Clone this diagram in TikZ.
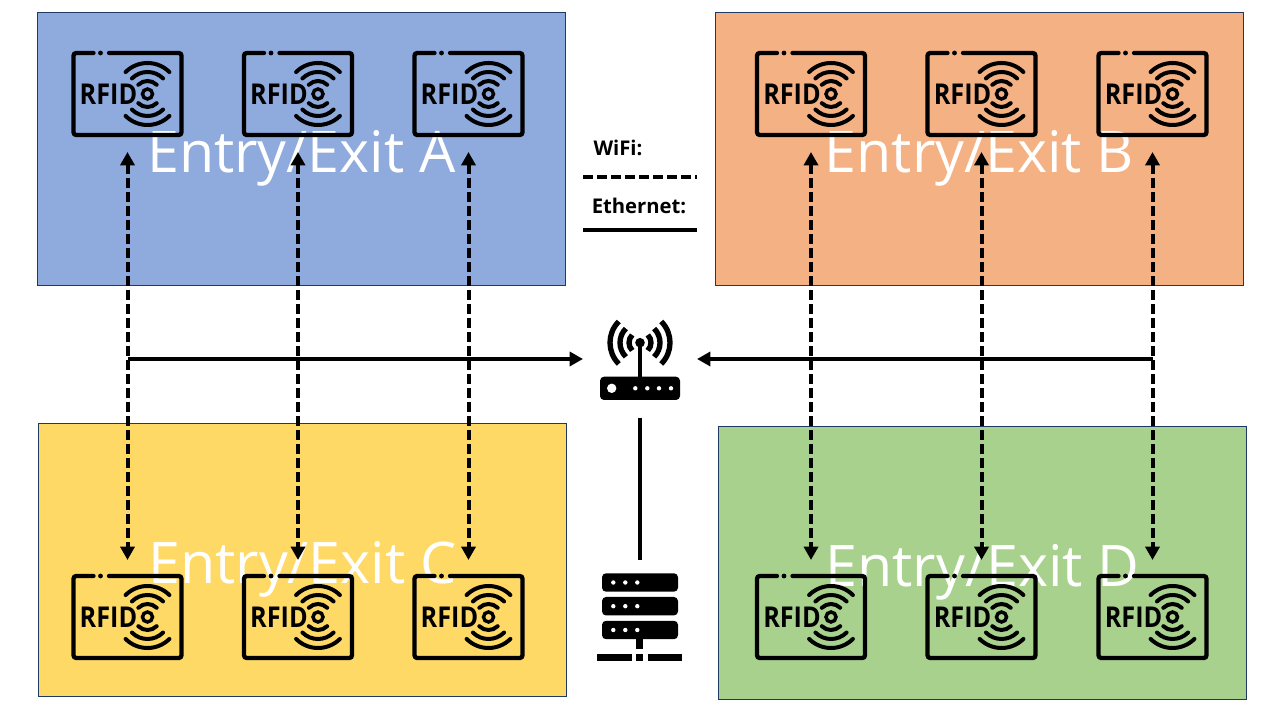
\documentclass[tikz,border=0pt]{standalone}
\usepackage{fontspec}
\setmainfont{Open Sans}
\usetikzlibrary{positioning,calc,shapes,arrows.meta}
\definecolor{ZoneBlue}{HTML}{8FAADC}
\definecolor{ZoneOrange}{HTML}{F4B183}
\definecolor{ZoneYellow}{HTML}{FFD966}
\definecolor{ZoneGreen}{HTML}{A9D18E}
\definecolor{ZoneEdge}{HTML}{1F3864}
\tikzset{
  zone/.style={draw=ZoneEdge,line width=0.75pt,
    minimum width=396pt,minimum height=204.75pt,inner sep=0pt,outer sep=0pt},
  zonetext/.style={text=white,font=\fontsize{43}{43}\selectfont,inner sep=0pt,yshift=-6.5pt},
  rfidnode/.style={minimum width=83.25pt,minimum height=63pt,inner sep=0pt,outer sep=0pt},
  wifiline/.style={line width=3pt,dash pattern=on 7.5pt off 3pt},
  wifilink/.style={wifiline,{Triangle[length=10pt,width=10.5pt]}-{Triangle[length=10pt,width=10.5pt]},
    shorten <=12pt,shorten >=11.25pt},
  ethline/.style={line width=3pt},
  ethlink/.style={ethline,-{Triangle[length=10pt,width=10.5pt]}},
  legend/.style={font=\fontsize{15.2}{15.2}\selectfont\bfseries,inner sep=0pt},
  rfidicon/.pic={
    \draw[line width=3.2pt,line cap=round,rounded corners=2pt] (-34,41) -- (-54,41) -- (-54,-41)
      -- (54,-41) -- (54,41) -- (-18.5,41);
    \fill (-27,41) circle (2.4);
    \node[xscale=0.88,transform shape,font=\fontsize{21.5}{21.5}\selectfont\bfseries,inner sep=0pt] (-txt) at (-19,0) {RFID};
    \draw[line width=2.6pt] (20,0) circle (5);
    \foreach \r in {13,22,31} {
      \draw[line width=3pt,line cap=round] ([shift={(45:\r)}]20,0) arc[start angle=45,end angle=135,radius=\r];
      \draw[line width=3pt,line cap=round] ([shift={(225:\r)}]20,0) arc[start angle=225,end angle=315,radius=\r];
    }
  },
  routericon/.pic={
    \fill[rounded corners=3pt] (-40,-41) rectangle (40,-17.7);
    \fill[white] (-28.3,-29.3) circle (4.7);
    \foreach \x in {-4.7,7.3,19,31} \fill[white] (\x,-29.3) circle (2.2);
    \fill (-2.4,16) rectangle (2.4,-18);
    \fill (0,16.3) circle (4.8);
    \foreach \r in {11,20,30} {
      \draw[line width=4pt] ([shift={(-45:\r)}]0,16.3) arc[start angle=-45,end angle=45,radius=\r];
      \draw[line width=4pt] ([shift={(135:\r)}]0,16.3) arc[start angle=135,end angle=225,radius=\r];
    }
  },
  servericon/.pic={
    \foreach \y in {34.5,10.8,-13} {
      \fill[rounded corners=3pt] (-38,\y-9.2) rectangle (38,\y+9.2);
      \foreach \x in {-26.7,-14.7,-2.7} \fill[white] (\x,\y) circle (2.2);
    }
    \fill (-4,-22) rectangle (3.3,-31.7);
    \fill (-42.7,-37) rectangle (-8.3,-43.7);
    \fill (-4,-37) rectangle (3.3,-43.7);
    \fill (7.7,-37) rectangle (41.7,-43.7);
  }
}
\begin{document}
\begin{tikzpicture}[x=0.75pt,y=0.75pt]
  \useasboundingbox (0,0) rectangle (1280,720);
  % zones
  \node[zone,fill=ZoneBlue] (zoneA) at (301.5,570.5) {};
  \node[zone,fill=ZoneOrange] (zoneB) at (979.5,570.5) {};
  \node[zone,fill=ZoneYellow] (zoneC) at (302.5,159.5) {};
  \node[zone,fill=ZoneGreen] (zoneD) at (982.5,156.5) {};
  \node[zonetext] (textA) at (zoneA) {Entry/Exit A};
  \node[zonetext] (textB) at (zoneB) {Entry/Exit B};
  \node[zonetext] (textC) at (zoneC) {Entry/Exit C};
  \node[zonetext] (textD) at (zoneD) {Entry/Exit D};
  % readers
  \foreach \n/\x/\xr in {1/127.5/811,2/298/981.5,3/468.5/1152.5} {
    \node[rfidnode] (readA\n) at (\x,626) {};
    \node[rfidnode] (readB\n) at (\xr,626) {};
    \node[rfidnode] (readC\n) at (\x,103) {};
    \node[rfidnode] (readD\n) at (\xr,103) {};
    \pic at (readA\n) {rfidicon};
    \pic at (readB\n) {rfidicon};
    \pic at (readC\n) {rfidicon};
    \pic at (readD\n) {rfidicon};
  }
  % router and server
  \node[minimum width=85.5pt,minimum height=88.5pt,inner sep=0pt,outer sep=0pt] (router) at (640,361) {};
  \pic at (router) {routericon};
  \node[minimum width=85.5pt,minimum height=85.5pt,inner sep=0pt,outer sep=0pt] (server) at (640,103) {};
  \pic at (server) {servericon};
  % links
  \foreach \n in {1,2,3} {
    \draw[wifilink] (readA\n) -- (readC\n);
    \draw[wifilink] (readB\n) -- (readD\n);
  }
  \coordinate (busL) at (127.5,361);
  \coordinate (busR) at (1152.5,361);
  \draw[ethlink] (busL) -- (router);
  \draw[ethlink] (busR) -- (router);
  \draw[ethline] (router) -- (server);
  % legend
  \node[legend] (wifiText) at (618,572) {WiFi:};
  \node[legend] (ethText) at (639,514) {Ethernet:};
  \coordinate (wifiL) at (583,543);
  \coordinate (wifiR) at (697,543);
  \coordinate (ethL) at (583,490);
  \coordinate (ethR) at (697,490);
  \draw[wifiline] (wifiL) -- (wifiR);
  \draw[ethline] (ethL) -- (ethR);
\end{tikzpicture}
\end{document}
